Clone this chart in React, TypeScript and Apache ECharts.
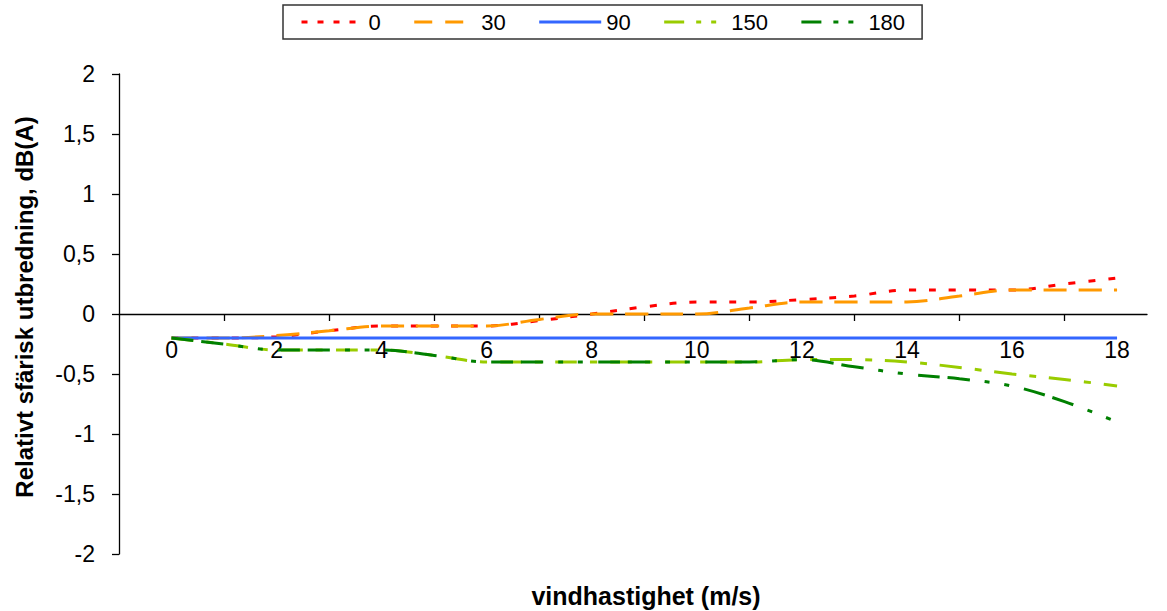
import React, { useEffect, useRef } from "react";
import * as echarts from "echarts";

// Wind speed (m/s)
const speeds = [0, 1, 2, 3, 4, 5, 6, 7, 8, 9, 10, 11, 12, 13, 14, 15, 16, 17, 18];

// Relative spherical spreading, dB(A), per wind direction (degrees)
const dir0 = [-0.2, -0.2, -0.19, -0.14, -0.1, -0.1, -0.1, -0.055, 0, 0.06, 0.1, 0.1, 0.12, 0.15, 0.2, 0.2, 0.2, 0.25, 0.3];
const dir30 = [-0.2, -0.2, -0.18, -0.14, -0.1, -0.1, -0.1, -0.045, 0, 0, 0, 0.05, 0.1, 0.1, 0.1, 0.15, 0.2, 0.2, 0.2];
const dir90 = [-0.2, -0.2, -0.2, -0.2, -0.2, -0.2, -0.2, -0.2, -0.2, -0.2, -0.2, -0.2, -0.2, -0.2, -0.2, -0.2, -0.2, -0.2, -0.2];
const dir150 = [-0.2, -0.25, -0.3, -0.3, -0.3, -0.345, -0.4, -0.4, -0.4, -0.4, -0.4, -0.4, -0.38, -0.38, -0.4, -0.445, -0.5, -0.545, -0.6];
const dir180 = [-0.2, -0.25, -0.3, -0.3, -0.3, -0.345, -0.4, -0.4, -0.4, -0.4, -0.4, -0.4, -0.38, -0.44, -0.5, -0.54, -0.6, -0.73, -0.9];

const seriesNames = ["0", "30", "90", "150", "180"];
const seriesValues = [dir0, dir30, dir90, dir150, dir180];
const seriesColors = ["#FF0000", "#FF9900", "#3366FF", "#99CC00", "#008000"];
const seriesDash: (number[] | "solid")[] = [
  [7, 13],
  [23, 12],
  "solid",
  [22, 13, 7, 13],
  [22, 8, 22, 15, 5, 15, 5, 15],
];
// shorter dash patterns for the 62px legend samples
const legendDash: (number[] | "solid")[] = [
  [6, 10],
  [18, 13],
  "solid",
  [20, 12, 5, 10, 5, 10],
  [20, 12, 5, 10, 5, 10],
];

const xTickValues = [1, 3, 5, 7, 9, 11, 13, 15, 17];
const xLabelValues = [0, 2, 4, 6, 8, 10, 12, 14, 16, 18];

const FONT = "'Liberation Sans', Arial, Helvetica, sans-serif";

// grid geometry: plot spans y 74..554, value 0 sits at y 314
const GRID_TOP = 74;
const GRID_BOTTOM_Y = 554;
const ZERO_Y = 314;

export default function App() {
  const ref = useRef<HTMLDivElement>(null);

  useEffect(() => {
    if (!ref.current) return;
    const chart = echarts.init(ref.current, undefined, { renderer: "svg" });

    const series = seriesNames.map((name, i) => ({
      name,
      type: "line" as const,
      data: speeds.map((s, k) => [s, seriesValues[i][k]]),
      symbol: "none",
      smooth: 0.35,
      lineStyle: {
        color: seriesColors[i],
        width: 3,
        type: seriesDash[i] as any,
        cap: "butt" as const,
      },
      itemStyle: { color: seriesColors[i] },
    }));

    chart.setOption({
      animation: false,
      backgroundColor: "#ffffff",
      textStyle: { fontFamily: FONT },
      legend: {
        left: 283,
        top: 5,
        itemWidth: 62,
        itemHeight: 14,
        itemGap: 32,
        padding: [6, 17],
        borderColor: "#333333",
        borderWidth: 1.5,
        itemStyle: { opacity: 0 },
        textStyle: { fontSize: 22, color: "#000000", fontFamily: FONT },
        data: seriesNames.map((name, i) => ({
          name,
          lineStyle: { color: seriesColors[i], width: 3, type: legendDash[i] as any },
        })),
      },
      grid: { left: 119, right: 20, top: GRID_TOP, bottom: 611 - GRID_BOTTOM_Y, containLabel: false },
      xAxis: {
        type: "value",
        min: -1,
        max: 18.57,
        position: "bottom",
        offset: -(GRID_BOTTOM_Y - ZERO_Y),
        splitLine: { show: false },
        axisLine: { onZero: false, lineStyle: { color: "#000000", width: 1.3 } },
        axisTick: {
          show: true,
          inside: false,
          length: 7,
          customValues: xTickValues,
          lineStyle: { color: "#000000", width: 1.3 },
        },
        axisLabel: {
          customValues: xLabelValues,
          margin: 24,
          fontSize: 23,
          color: "#000000",
          fontFamily: FONT,
        },
      },
      yAxis: {
        type: "value",
        min: -2,
        max: 2,
        interval: 0.5,
        splitLine: { show: false },
        axisLine: { show: true, onZero: false, lineStyle: { color: "#000000", width: 1.3 } },
        axisTick: { show: true, inside: false, length: 7, lineStyle: { color: "#000000", width: 1.3 } },
        axisLabel: {
          margin: 24,
          fontSize: 23,
          color: "#000000",
          fontFamily: FONT,
          formatter: (v: number) => String(v).replace(".", ","),
        },
      },
      graphic: [
        {
          type: "text",
          x: 24,
          y: 307,
          rotation: Math.PI / 2,
          style: {
            text: "Relativt sfärisk utbredning, dB(A)",
            font: `bold 24px ${FONT}`,
            fill: "#000000",
            textAlign: "center",
            textVerticalAlign: "middle",
          },
        },
        {
          type: "text",
          x: 646,
          y: 596,
          style: {
            text: "vindhastighet (m/s)",
            font: `bold 25px ${FONT}`,
            fill: "#000000",
            textAlign: "center",
            textVerticalAlign: "middle",
          },
        },
      ],
      series,
    });

    return () => chart.dispose();
  }, []);

  return (
    <div
      ref={ref}
      style={{ position: "fixed", left: 0, top: 0, width: 1167, height: 611 }}
    />
  );
}
